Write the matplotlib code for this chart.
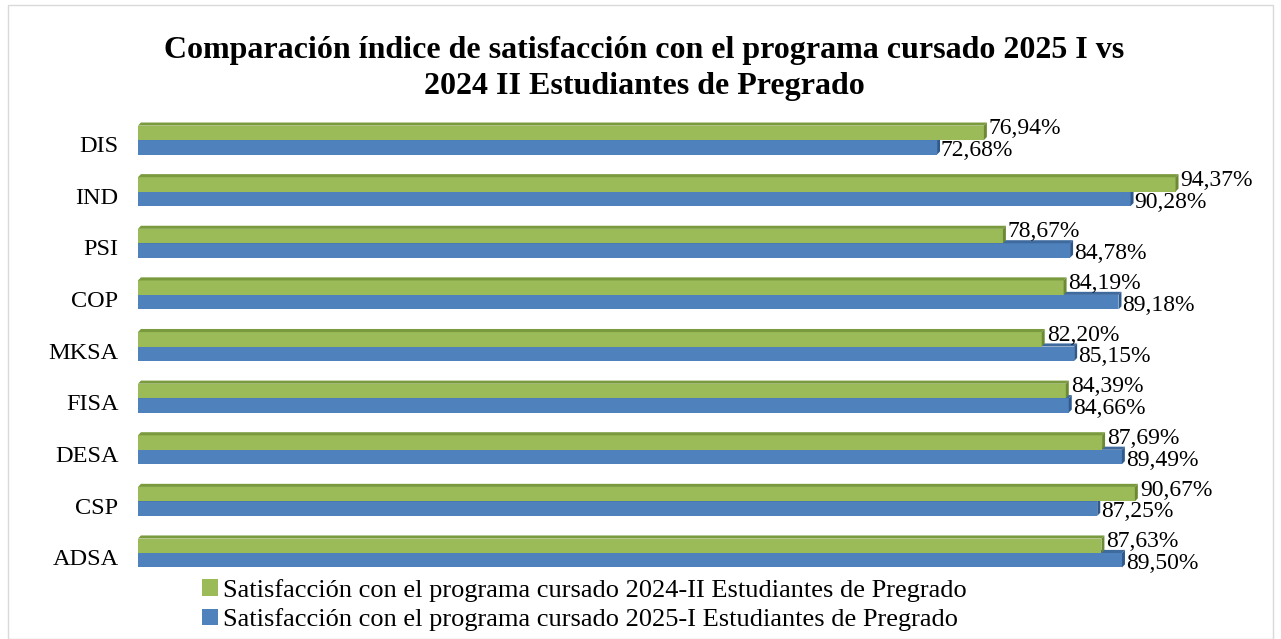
import matplotlib.pyplot as plt
from matplotlib.patches import Rectangle, Polygon

plt.rcParams['font.family'] = ['Liberation Serif', 'DejaVu Serif']

categorias = ['DIS', 'IND', 'PSI', 'COP', 'MKSA', 'FISA', 'DESA', 'CSP', 'ADSA']
sat_2024_II = [76.94, 94.37, 78.67, 84.19, 82.20, 84.39, 87.69, 90.67, 87.63]
sat_2025_I = [72.68, 90.28, 84.78, 89.18, 85.15, 84.66, 89.49, 87.25, 89.50]

nombre_2024 = 'Satisfacción con el programa cursado 2024-II Estudiantes de Pregrado'
nombre_2025 = 'Satisfacción con el programa cursado 2025-I Estudiantes de Pregrado'
titulo = 'Comparación índice de satisfacción con el programa cursado 2025 I vs\n2024 II Estudiantes de Pregrado'

verde, verde_top, verde_lado = '#9BBB59', '#7A9A3E', '#6B8A33'
azul, azul_top, azul_lado = '#4F81BD', '#3E6A9E', '#2F5A8E'

fig = plt.figure(figsize=(12.81, 6.39), dpi=100)
ax = fig.add_axes([0.1077, 0.0942, 0.8583, 0.727])

h = 0.28
dx = 0.27   # profundidad 3D en x (%)
dy = 0.06   # profundidad 3D en y


def barra3d(y_sup, v, c, c_top, c_lado):
    # y_sup es el borde visual superior (eje invertido)
    ax.add_patch(Rectangle((0, y_sup), v, h, facecolor=c, edgecolor='none'))
    ax.add_patch(Polygon([(0, y_sup), (v, y_sup), (v + dx, y_sup - dy), (dx, y_sup - dy)],
                         closed=True, facecolor=c_top, edgecolor='none'))
    ax.add_patch(Polygon([(v, y_sup), (v + dx, y_sup - dy), (v + dx, y_sup + h - dy), (v, y_sup + h)],
                         closed=True, facecolor=c_lado, edgecolor='none'))


for i, (g, b) in enumerate(zip(sat_2024_II, sat_2025_I)):
    barra3d(i, b, azul, azul_top, azul_lado)
    barra3d(i - h, g, verde, verde_top, verde_lado)
    ax.text(g + 0.45, i - 0.22, f'{g:.2f}%'.replace('.', ','), fontsize=17,
            va='center', ha='left')
    ax.text(b + 0.35, i + 0.2, f'{b:.2f}%'.replace('.', ','), fontsize=17,
            va='center', ha='left')

ax.set_xlim(0, 100)
ax.set_ylim(len(categorias) - 0.5, -0.5)
ax.set_yticks([i + 0.08 for i in range(len(categorias))])
ax.set_yticklabels(categorias, fontsize=17.5)
ax.tick_params(axis='y', length=0, pad=14)
ax.set_xticks([])
for s in ax.spines.values():
    s.set_visible(False)

fig.text(0.503, 0.893, titulo, ha='center', va='center', fontsize=23,
         fontweight='bold', linespacing=1.3)

h1 = Rectangle((0, 0), 1, 1, facecolor=verde)
h2 = Rectangle((0, 0), 1, 1, facecolor=azul)
fig.legend([h1, h2], [nombre_2024, nombre_2025], loc='lower left',
           bbox_to_anchor=(0.141, -0.021), frameon=False, fontsize=19,
           handlelength=0.6, handleheight=0.6, handletextpad=0.22,
           labelspacing=0.25, borderpad=0.3)

fig.add_artist(Rectangle((0.006, 0.0), 0.988, 0.992, transform=fig.transFigure,
                         fill=False, edgecolor='#D9D9D9', linewidth=1))

fig.savefig('out.png', dpi=100)
